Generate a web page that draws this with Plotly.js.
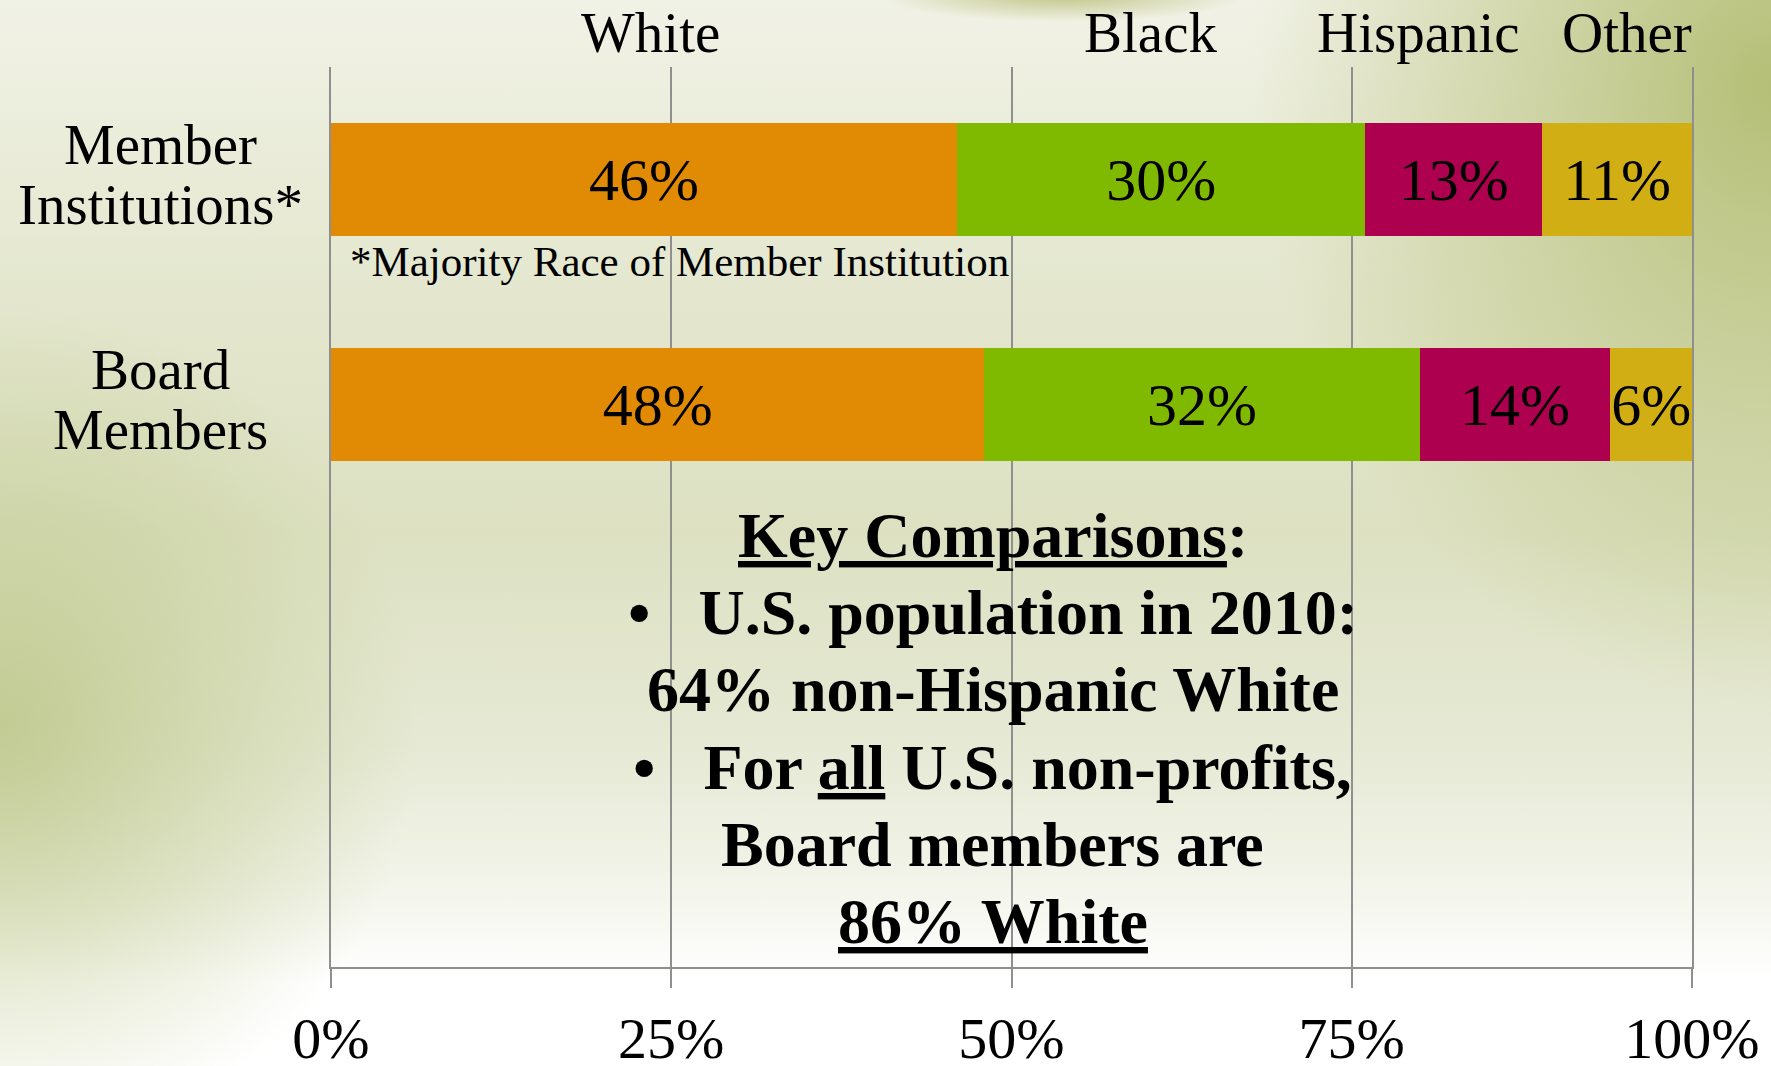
<!DOCTYPE html>
<html>
<head>
<meta charset="utf-8">
<script src="https://cdn.plot.ly/plotly-3.0.1.min.js"></script>
<style>
  html, body { margin: 0; padding: 0; width: 1771px; height: 1066px; overflow: hidden; }
  body {
    background:
      radial-gradient(ellipse 185px 26px at 60% -4px, rgba(185,190,120,0.85), rgba(185,190,120,0) 100%),
      radial-gradient(ellipse 520px 620px at 100% 8%, rgba(178,188,112,0.95), rgba(178,188,112,0) 100%),
      radial-gradient(ellipse 420px 420px at 0% 68%, rgba(190,200,140,0.9), rgba(190,200,140,0) 100%),
      linear-gradient(to bottom, #f1f2e6 0%, #e3e6cc 30%, #dde1c2 50%, #e6e9d4 70%, #f4f5ec 84%, #ffffff 92%, #ffffff 100%);
  }
  #chart { width: 1771px; height: 1066px; }
</style>
</head>
<body>
<div id="chart"></div>
<script>
// ---- data ----
var groups = ['Member<br>Institutions*', 'Board<br>Members'];
var races = ['White', 'Black', 'Hispanic', 'Other'];
var memberValues = [46, 30, 13, 11];
var boardValues = [48, 32, 14, 6];
var tickVals = [0, 25, 50, 75, 100];
var tickLabels = ['0%', '25%', '50%', '75%', '100%'];
var footnote = '*Majority Race of Member Institution';
var keyLines = [
  '<u>Key Comparisons</u>:',
  '\u2022\u00A0\u00A0\u00A0U.S. population in 2010:',
  '64% non-Hispanic White',
  '\u2022\u00A0\u00A0\u00A0For <u>all</u> U.S. non-profits,',
  'Board members are',
  '<u>86% White</u>'
];

// ---- styles / layout constants ----
var colors = ['#E18B05', '#80BA00', '#AD004F', '#D2AE15'];
var raceLabelX = [23.5, 60.2, 79.9, 95.2];
var serif = 'Liberation Serif, Times New Roman, serif';
var gridColor = '#8f8f8f';

var traces = races.map(function (r, i) {
  var vals = [memberValues[i], boardValues[i]];
  return {
    type: 'bar',
    orientation: 'h',
    name: r,
    y: [0, 1],
    x: vals,
    width: 0.5,
    marker: { color: colors[i], line: { width: 0 } },
    text: vals.map(function (v) { return v + '%'; }),
    textposition: 'inside',
    insidetextanchor: 'middle',
    textangle: 0,
    constraintext: 'none',
    textfont: { family: serif, size: 60, color: '#000' },
    hoverinfo: 'skip'
  };
});

var annotations = [];
// race labels on top
races.forEach(function (r, i) {
  annotations.push({
    text: r, xref: 'x', yref: 'paper', x: raceLabelX[i], y: 1.0378,
    xanchor: 'center', yanchor: 'middle', showarrow: false,
    font: { family: serif, size: 57, color: '#000' }
  });
});
// group labels on left
groups.forEach(function (g, gi) {
  var lines = g.split('<br>');
  lines.forEach(function (ln, li) {
    annotations.push({
      text: ln, xref: 'paper', yref: 'y', x: -0.1256, y: gi,
      xanchor: 'center', yanchor: 'middle', yshift: 35 - 60 * li, showarrow: false,
      font: { family: serif, size: 57, color: '#000' }
    });
  });
});
// footnote
annotations.push({
  text: footnote, xref: 'paper', yref: 'paper', x: 0.0125, y: 0.7839,
  xanchor: 'left', yanchor: 'middle', showarrow: false,
  font: { family: serif, size: 43, color: '#000' }
});
// key comparisons block
keyLines.forEach(function (ln, i) {
  annotations.push({
    text: '<b>' + ln + '</b>', xref: 'paper', yref: 'paper', x: 0.4864,
    y: (967 - (535.4 + 77.2 * i)) / 900,
    xanchor: 'center', yanchor: 'middle', showarrow: false,
    font: { family: serif, size: 64, color: '#000' }
  });
});

var layout = {
  width: 1771, height: 1066,
  margin: { l: 331, r: 79, t: 67, b: 99, pad: 0 },
  paper_bgcolor: 'rgba(0,0,0,0)',
  plot_bgcolor: 'rgba(0,0,0,0)',
  barmode: 'stack',
  showlegend: false,
  xaxis: {
    range: [0, 100],
    tickvals: tickVals, ticktext: tickLabels,
    showgrid: true, gridcolor: gridColor, gridwidth: 2,
    zeroline: false,
    showline: true, linecolor: gridColor, linewidth: 2,
    ticks: 'outside', ticklen: 19, tickwidth: 2, tickcolor: gridColor,
    tickfont: { family: serif, size: 58, color: '#000' },
    ticklabelstandoff: 0,
    fixedrange: true
  },
  yaxis: {
    range: [3.5, -0.5],
    showticklabels: false, showgrid: false, zeroline: false,
    showline: true, mirror: true, linecolor: gridColor, linewidth: 2,
    ticks: '', fixedrange: true
  },
  annotations: annotations
};

Plotly.newPlot('chart', traces, layout, { displayModeBar: false, staticPlot: true });
</script>
</body>
</html>
